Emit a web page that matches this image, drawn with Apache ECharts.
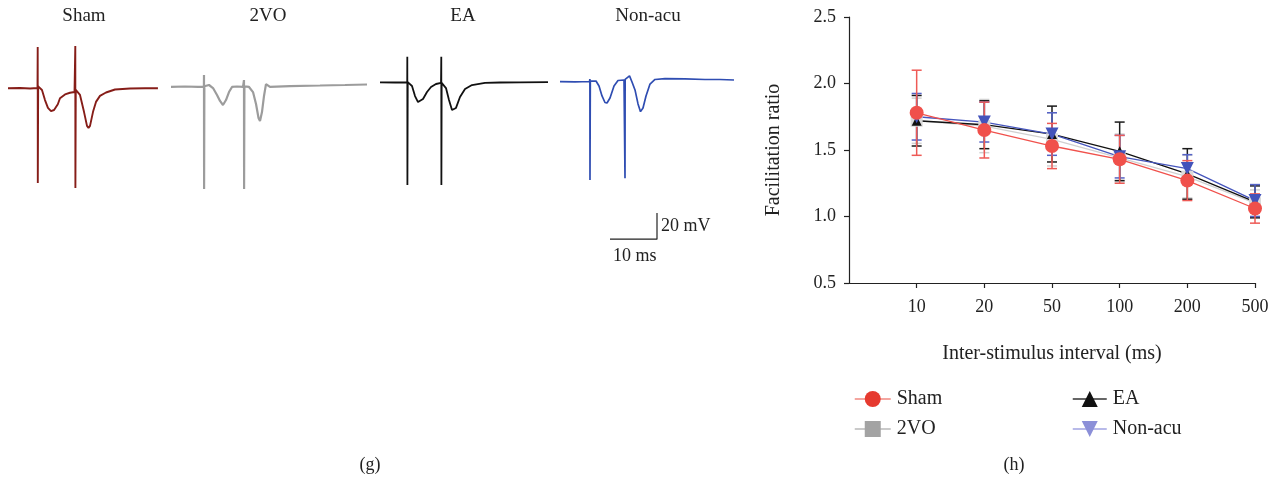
<!DOCTYPE html>
<html>
<head>
<meta charset="utf-8">
<script src="https://cdn.jsdelivr.net/npm/echarts@6/dist/echarts.min.js"></script>
<style>
html,body{margin:0;padding:0;background:#fff;}
#c{width:1277px;height:479px;}
</style>
</head>
<body>
<div id="c"></div>
<script>
// ---------- Panel (h) data ----------
const intervals = ['10', '20', '50', '100', '200', '500'];
const shamMean = [1.78, 1.65, 1.53, 1.43, 1.27, 1.06];
const shamErr  = [0.32, 0.21, 0.17, 0.18, 0.15, 0.11];
const vo2Mean  = [1.72, 1.68, 1.58, 1.44, 1.30, 1.10];
const vo2Err   = [0.17, 0.20, 0.20, 0.18, 0.16, 0.10];
const eaMean   = [1.72, 1.69, 1.62, 1.49, 1.32, 1.11];
const eaErr    = [0.19, 0.18, 0.21, 0.22, 0.19, 0.12];
const nonMean  = [1.75, 1.71, 1.62, 1.45, 1.36, 1.12];
const nonErr   = [0.175, 0.15, 0.16, 0.16, 0.105, 0.12];
const yTicks   = [0.5, 1.0, 1.5, 2.0, 2.5];

// ---------- Panel (g) traces: [time ms, mV relative to baseline] ----------
const traceNames = ['Sham', '2VO', 'EA', 'Non-acu'];
const shamTrace = [
  [0,0],[2.55,0.2],[4.7,-0.2],[6.28,0.2],[6.32,31.6],[6.34,-72.4],[6.42,1.5],[6.81,1.8],[7.23,-1.3],[7.87,-9],
  [8.5,-15],[9.15,-17.4],[9.8,-16.6],[10.6,-12.2],[11.06,-7.6],[12.13,-4.7],[13.19,-3.4],[14.15,-2.8],
  [14.3,-2.6],[14.32,32.4],[14.34,-76.2],[14.42,-1.2],[14.68,-1.5],[15.32,-5.1],[16.17,-18],[16.81,-28.7],
  [17.13,-30.3],[17.45,-28.7],[18.09,-18],[18.72,-10.4],[19.57,-5.8],[20.85,-3.2],[22.77,-0.9],[25.96,-0.2],
  [29.15,0],[31.9,0]
];
const vo2Trace = [
  [0,-0.2],[2.98,0.15],[5.74,-0.2],[7.0,-0.2],[7.02,8.9],[7.04,-78.2],[7.1,0.3],[7.45,0.5],[8.09,1.3],
  [8.94,-1],[9.79,-6.3],[10.43,-10.9],[11.06,-14],[11.7,-10.2],[12.34,-4.1],[12.98,-0.2],[14.04,0.15],
  [15.32,-0.2],[15.51,-0.2],[15.53,5.1],[15.55,-78.2],[15.62,0.3],[15.96,0.5],[16.6,-0.2],[17.45,-4.1],
  [18.09,-13.2],[18.62,-23.9],[18.94,-26.2],[19.36,-19.4],[19.79,-7.1],[20.21,2],[21.06,-0.2],[25.32,0.5],
  [31.7,0.9],[37.02,1.3],[41.7,1.7]
];
const eaTrace = [
  [0,0],[3.19,-0.15],[5.79,0],[5.81,19.6],[5.83,-78.5],[5.9,0.1],[6.17,0.2],[6.81,-2.8],[7.45,-10.5],
  [8.09,-15.1],[8.51,-15.6],[9.15,-12.8],[10,-7.4],[10.85,-3.6],[11.91,-1.3],[12.98,-0.5],[13.04,19.6],
  [13.06,-78.5],[13.12,-0.5],[13.4,-0.5],[14.04,-4.4],[14.68,-13.5],[15.32,-21.2],[15.64,-22.5],[16.17,-19.6],
  [17.02,-11.2],[18.09,-5.1],[19.57,-2.1],[22.34,-0.5],[25.53,-0.15],[29.79,0],[35.74,0.2]
];
const nonTrace = [
  [0,0],[3.19,-0.2],[6.28,0.15],[6.36,2],[6.38,-75.2],[6.45,0.5],[6.81,0.9],[7.66,0.5],[8.3,-3.3],
  [8.94,-10.9],[9.57,-15.9],[10,-16.3],[10.64,-12.5],[11.49,-3.3],[12.34,0.9],[13.62,1.3],[13.81,1.3],
  [13.83,-73.9],[13.86,1.8],[14.26,2.1],[14.79,4.4],[15.32,-0.2],[15.96,-6.3],[16.6,-17],[17.13,-22.9],
  [17.66,-20.1],[18.3,-10.9],[19.15,-1.8],[20.21,1.7],[22.34,2.4],[26.6,2.1],[30.85,1.7],[34.04,1.7],[37.02,1.3]
];
const scaleBar = [[0,0],[10,0],[10,20]]; // 10 ms, 20 mV

const FONT = "'Liberation Serif', 'DejaVu Serif', serif";
const PX_PER_MS = 4.7;
const MV_MIN = -90, MV_MAX = 40;
const traceH = 170;

const traces = [
  {name:'Sham', data:shamTrace, color:'#861d18', left:8,   baseY:88.3, lw:1.9},
  {name:'2VO',  data:vo2Trace,  color:'#9c9c9c', left:171, baseY:86.7, lw:2.2},
  {name:'EA',   data:eaTrace,   color:'#111111', left:380, baseY:82.3, lw:1.8},
  {name:'Non-acu', data:nonTrace, color:'#2f4db2', left:560, baseY:81.7, lw:1.7}
];
const titleX = [84, 268, 463, 648];

const grids = [{left:849, top:17, right:22, bottom:196}];
const xAxes = [{
  gridIndex:0, type:'value', min:0, max:6, interval:1,
  axisLine:{show:true, lineStyle:{color:'#222', width:1.2}},
  axisTick:{show:true, inside:false, length:5, customValues:[1,2,3,4,5,6], lineStyle:{color:'#222', width:1.2}},
  axisLabel:{customValues:[1,2,3,4,5,6], formatter:v=>intervals[Math.round(v)-1], fontFamily:FONT, fontSize:18, color:'#222', margin:15},
  splitLine:{show:false},
  name:'Inter-stimulus interval (ms)', nameLocation:'middle', nameGap:61,
  nameTextStyle:{fontFamily:FONT, fontSize:20, color:'#222'}
}];
const yAxes = [{
  gridIndex:0, type:'value', min:0.5, max:2.5, interval:0.5,
  axisLine:{show:true, lineStyle:{color:'#222', width:1.2}},
  axisTick:{show:true, length:5, lineStyle:{color:'#222', width:1.2}},
  axisLabel:{formatter:v=>v.toFixed(1), fontFamily:FONT, fontSize:18, color:'#222', margin:13},
  splitLine:{show:false},
  name:'Facilitation ratio', nameLocation:'middle', nameGap:65, nameRotate:90,
  nameTextStyle:{fontFamily:FONT, fontSize:20, color:'#222'}
}];
const series = [];

traces.forEach((t, i) => {
  const dur = t.data[t.data.length-1][0];
  const gi = grids.length;
  grids.push({left:t.left, top:t.baseY - MV_MAX*traceH/(MV_MAX-MV_MIN), width:dur*PX_PER_MS, height:traceH});
  xAxes.push({gridIndex:gi, type:'value', min:0, max:dur, show:false});
  yAxes.push({gridIndex:gi, type:'value', min:MV_MIN, max:MV_MAX, show:false});
  series.push({type:'line', name:'trace-'+t.name, xAxisIndex:gi, yAxisIndex:gi, data:t.data,
    showSymbol:false, symbol:'none', lineStyle:{color:t.color, width:t.lw}, silent:true, animation:false, clip:false});
});
// scale bar grid
{
  const gi = grids.length;
  grids.push({left:610, top:213, width:10*PX_PER_MS, height:20*traceH/(MV_MAX-MV_MIN)});
  xAxes.push({gridIndex:gi, type:'value', min:0, max:10, show:false});
  yAxes.push({gridIndex:gi, type:'value', min:0, max:20, show:false});
  series.push({type:'line', name:'scalebar', xAxisIndex:gi, yAxisIndex:gi, data:scaleBar,
    showSymbol:false, symbol:'none', lineStyle:{color:'#222', width:1.2}, silent:true, animation:false, clip:false});
}

// error bars + lines for panel (h)
function errSeries(name, mean, err, color) {
  return {
    type:'custom', name:name+'-err', xAxisIndex:0, yAxisIndex:0,
    data: mean.map((m, i) => [i+1, m, err[i]]),
    renderItem: (params, api) => {
      const x = api.value(0), y = api.value(1), e = api.value(2);
      const top = api.coord([x, y+e]), bot = api.coord([x, y-e]);
      const w = 5;
      const st = {stroke:color, lineWidth:1.5};
      return {type:'group', children:[
        {type:'line', shape:{x1:top[0], y1:top[1], x2:bot[0], y2:bot[1]}, style:st},
        {type:'line', shape:{x1:top[0]-w, y1:top[1], x2:top[0]+w, y2:top[1]}, style:st},
        {type:'line', shape:{x1:bot[0]-w, y1:bot[1], x2:bot[0]+w, y2:bot[1]}, style:st}
      ]};
    },
    silent:true, animation:false
  };
}
function lineSeries(name, mean, lineColor, symbol, size, symColor) {
  return {
    type:'line', name:name, xAxisIndex:0, yAxisIndex:0,
    data: mean.map((m, i) => [i+1, m]),
    symbol:symbol, symbolSize:size, showSymbol:true,
    lineStyle:{color:lineColor, width:1.3},
    itemStyle:{color:symColor},
    animation:false
  };
}
const invTri = 'path://M0,0 L10,0 L5,9 Z';
series.push(errSeries('2VO', vo2Mean, vo2Err, '#d2d2d2'));
series.push(lineSeries('2VO', vo2Mean, '#d0d0d0', 'rect', 12, '#dadada'));
series.push(errSeries('EA', eaMean, eaErr, '#1a1a1a'));
series.push(lineSeries('EA', eaMean, '#111111', 'triangle', 10, '#111111'));
series.push(errSeries('Non-acu', nonMean, nonErr, '#5563c6'));
series.push(lineSeries('Non-acu', nonMean, '#4656bd', invTri, 13, '#4353bb'));
series.push(errSeries('Sham', shamMean, shamErr, '#ee5a56'));
series.push(lineSeries('Sham', shamMean, '#f0514c', 'circle', 14, '#f0504b'));

const legendText = {fontFamily:FONT, fontSize:20, color:'#222', padding:[0,0,0,1]};
const option = {
  backgroundColor:'#fff',
  animation:false,
  grid: grids, xAxis: xAxes, yAxis: yAxes, series: series,
  legend: [
    {orient:'vertical', left:849, top:384, itemWidth:36, itemHeight:20, itemGap:10, textStyle:legendText,
     selectedMode:false,
     data:[
       {name:'Sham', itemStyle:{color:'#e63a2f'}, lineStyle:{color:'#f08880', width:1.5}},
       {name:'2VO', itemStyle:{color:'#a3a3a3'}, lineStyle:{color:'#b8b8b8', width:1.5}}
     ]},
    {orient:'vertical', left:1067, top:384, itemWidth:34, itemHeight:20, itemGap:10, textStyle:legendText,
     selectedMode:false,
     data:[
       {name:'EA', itemStyle:{color:'#111'}, lineStyle:{color:'#333', width:1.5}},
       {name:'Non-acu', itemStyle:{color:'#8b8fd8'}, lineStyle:{color:'#a0a3e2', width:1.5}}
     ]}
  ],
  graphic: [
    ...traceNames.map((n, i) => ({type:'text', x:titleX[i], y:16, style:{text:n, fontFamily:FONT, fontSize:19, fill:'#222', align:'center', verticalAlign:'middle'}})),
    {type:'text', x:661, y:226, style:{text:'20 mV', fontFamily:FONT, fontSize:18, fill:'#222', align:'left', verticalAlign:'middle'}},
    {type:'text', x:613, y:256, style:{text:'10 ms', fontFamily:FONT, fontSize:18, fill:'#222', align:'left', verticalAlign:'middle'}},
    {type:'text', x:370, y:465, style:{text:'(g)', fontFamily:FONT, fontSize:18, fill:'#222', align:'center', verticalAlign:'middle'}},
    {type:'text', x:1014, y:465, style:{text:'(h)', fontFamily:FONT, fontSize:18, fill:'#222', align:'center', verticalAlign:'middle'}}
  ]
};

const chart = echarts.init(document.getElementById('c'), null, {renderer:'canvas'});
chart.setOption(option);
</script>
</body>
</html>
